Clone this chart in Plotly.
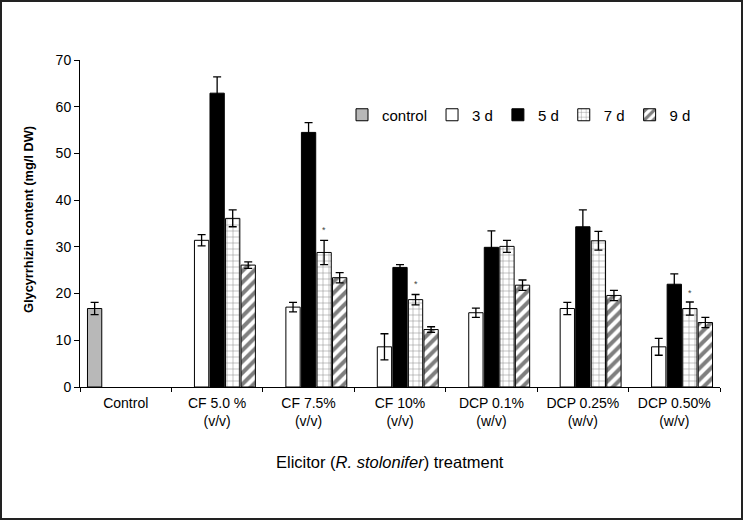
import plotly.graph_objects as go

categories = ["Control", "CF 5.0 %<br>(v/v)", "CF 7.5%<br>(v/v)", "CF 10%<br>(v/v)",
              "DCP 0.1%<br>(w/v)", "DCP 0.25%<br>(w/v)", "DCP 0.50%<br>(w/v)"]

control_vals = [16.8, None, None, None, None, None, None]
control_err = [1.3, None, None, None, None, None, None]

d3_vals = [None, 31.4, 17.1, 8.6, 15.9, 16.8, 8.6]
d3_err = [None, 1.2, 1.0, 2.8, 1.0, 1.3, 1.8]

d5_vals = [None, 62.9, 54.5, 25.6, 29.9, 34.3, 22.0]
d5_err = [None, 3.5, 2.1, 0.6, 3.5, 3.6, 2.2]

d7_vals = [None, 36.1, 28.8, 18.7, 30.1, 31.3, 16.8]
d7_err = [None, 1.8, 2.6, 1.1, 1.3, 2.0, 1.4]

d9_vals = [None, 26.1, 23.4, 12.3, 21.8, 19.6, 13.8]
d9_err = [None, 0.7, 1.1, 0.6, 1.1, 1.1, 1.1]

star_cats = [categories[2], categories[3], categories[6]]
star_y = [33.6, 22.0, 20.2]

FONT = "Liberation Sans, Arial, sans-serif"

def err(arr):
    return dict(type="data", array=arr, visible=True, color="black", thickness=1.3, width=4)

fig = go.Figure()
fig.add_trace(go.Bar(name="control", x=categories, y=control_vals, error_y=err(control_err),
                     marker=dict(color="#b8b8b8", line=dict(color="black", width=1))))
fig.add_trace(go.Bar(name="3 d", x=categories, y=d3_vals, error_y=err(d3_err),
                     marker=dict(color="white", line=dict(color="black", width=1))))
fig.add_trace(go.Bar(name="5 d", x=categories, y=d5_vals, error_y=err(d5_err),
                     marker=dict(color="black", line=dict(color="black", width=1))))
fig.add_trace(go.Bar(name="7 d", x=categories, y=d7_vals, error_y=err(d7_err),
                     marker=dict(color="white", line=dict(color="black", width=1),
                                 pattern=dict(shape="+", fgcolor="black", bgcolor="white",
                                              size=6, solidity=0.15))))
fig.add_trace(go.Bar(name="9 d", x=categories, y=d9_vals, error_y=err(d9_err),
                     marker=dict(color="white", line=dict(color="black", width=1),
                                 pattern=dict(shape="/", fgcolor="black", bgcolor="white",
                                              size=8, solidity=0.5))))

for c, yv in zip(star_cats, star_y):
    fig.add_annotation(x=c, y=yv, text="*", showarrow=False, xshift=15.5,
                       font=dict(size=9, color="#444", family=FONT))

L, R, T, B = 80, 23, 60, 133
W, H = 743, 520
pw, ph = W - L - R, H - T - B

# outer frame
fig.add_shape(type="rect", xref="paper", yref="paper",
              x0=-L / pw + 1 / pw, x1=1 + R / pw - 1 / pw,
              y0=-B / ph + 1 / ph, y1=1 + T / ph - 1 / ph,
              line=dict(color="#222", width=2), layer="below")

# axis titles as annotations (positioned like the reference)
fig.add_annotation(xref="paper", yref="paper", x=(28 - L) / pw, y=(387 - 220) / ph,
                   text="<b>Glycyrrhizin content (mg/l DW)</b>", textangle=-90,
                   showarrow=False, xanchor="center", yanchor="middle",
                   font=dict(family=FONT, size=12.8, color="black"))
fig.add_annotation(xref="paper", yref="paper", x=(390 - L) / pw, y=(387 - 462) / ph,
                   text="Elicitor (<i>R. stolonifer</i>) treatment",
                   showarrow=False, xanchor="center", yanchor="middle",
                   font=dict(family=FONT, size=16.5, color="black"))

fig.update_layout(
    width=W, height=H,
    margin=dict(l=L, r=R, t=T, b=B, pad=0),
    paper_bgcolor="white", plot_bgcolor="white",
    barmode="group", bargap=0.15, bargroupgap=0.08,
    font=dict(family=FONT, color="black", size=14),
    showlegend=True,
    legend=dict(orientation="h", x=(342 - L) / pw, y=(387 - 115) / ph,
                xanchor="left", yanchor="middle",
                bgcolor="rgba(0,0,0,0)", itemwidth=30, traceorder="normal",
                font=dict(family=FONT, size=15, color="black")),
    xaxis=dict(showline=True, linecolor="black", linewidth=1, ticks="outside", ticklen=4,
               tickson="boundaries", tickcolor="black", showgrid=False,
               ticklabelstandoff=3,
               tickfont=dict(family=FONT, size=14)),
    yaxis=dict(range=[0, 70], dtick=10, showline=True, linecolor="black", linewidth=1,
               ticks="outside", ticklen=5, tickcolor="black", showgrid=False, zeroline=False,
               tickfont=dict(family=FONT, size=14)),
)

fig.write_html("out.html", config={"displayModeBar": False},
               post_script="document.body.style.margin='0';")
